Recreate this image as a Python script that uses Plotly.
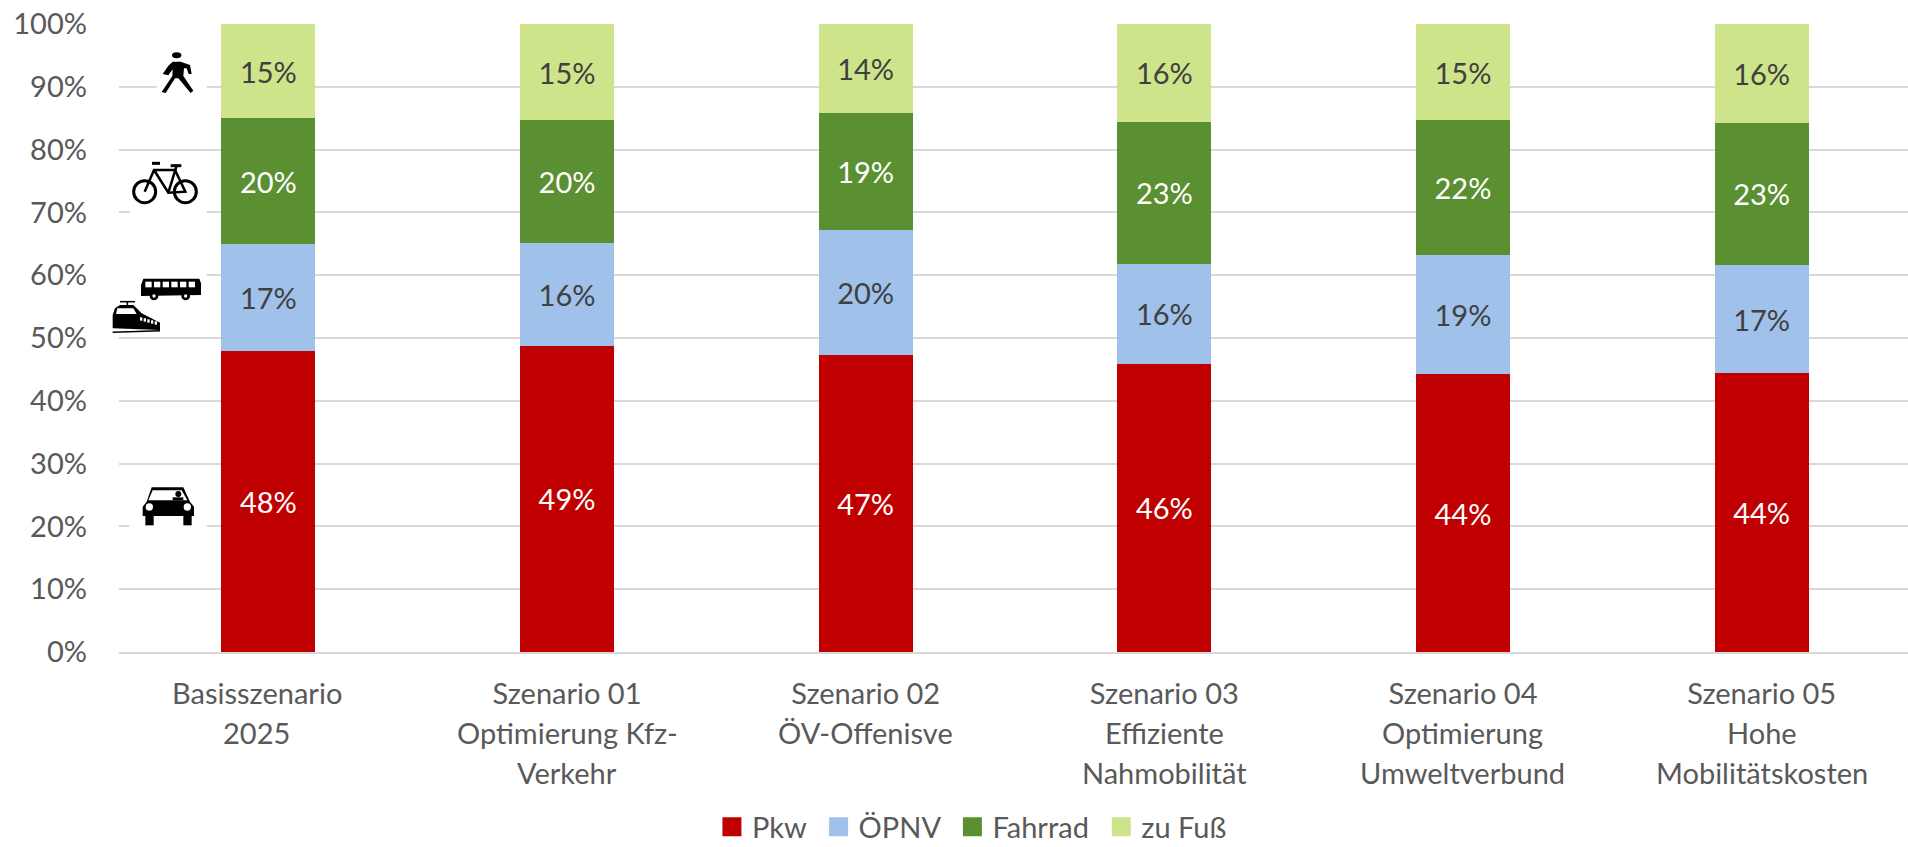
import plotly.graph_objects as go

# ---- data ----
first_lines = ["Basisszenario", "Szenario 01", "Szenario 02", "Szenario 03", "Szenario 04", "Szenario 05"]
more_lines = [["2025"], ["Optimierung Kfz-", "Verkehr"], ["ÖV-Offenisve"], ["Effiziente", "Nahmobilität"],
              ["Optimierung", "Umweltverbund"], ["Hohe", "Mobilitätskosten"]]
pkw = [48.0, 48.8, 47.3, 45.9, 44.2, 44.4]
oepnv = [16.9, 16.3, 19.9, 15.9, 19.0, 17.2]
fahrrad = [20.1, 19.6, 18.7, 22.6, 21.5, 22.7]
zufuss = [15.0, 15.3, 14.1, 15.6, 15.3, 15.7]
series = [("Pkw", pkw, "#C00000", "#FFFFFF"), ("ÖPNV", oepnv, "#9FC1EA", "#404040"),
          ("Fahrrad", fahrrad, "#5B9032", "#FFFFFF"), ("zu Fuß", zufuss, "#CDE48B", "#404040")]
FONT = "Lato"
FS = 29
W, H = 1908, 847
L, T, R, B = 119, 24, 0, 195
NB = "\u00a0"

fig = go.Figure()
for name, vals, col, tc in series:
    fig.add_bar(x=first_lines, y=vals, name=name, marker=dict(color=col, line_width=0), showlegend=False,
                text=[f"{v:.0f}%" for v in vals], textposition="inside", insidetextanchor="middle",
                textangle=0, constraintext="none", textfont=dict(family=FONT, size=FS, color=tc),
                cliponaxis=False)
for name, vals, col, tc in series:
    label = name if name == "zu Fuß" else name + NB
    fig.add_scatter(x=[first_lines[0]], y=[None], name=label, mode="markers",
                    marker=dict(symbol="square", size=16, color=col, line=dict(color=col, width=3)))

annotations = []
for j, (cat, lines) in enumerate(zip(first_lines, more_lines)):
    for i, line in enumerate(lines):
        annotations.append(dict(x=cat, xref="x", yref="paper", y=1 - (692 + 40 * (i + 1) - T) / (H - T - B),
                                yanchor="middle", showarrow=False, text=line, xshift=-12 if j == 0 else 0,
                                font=dict(family=FONT, size=FS, color="#595959")))

# ---- pictograms (zoom-crop coordinates, 3x) ----
def px(x, y):
    return (x / 3 - L) / (W - L - R), 1 - (y / 3 - T) / (H - T - B)

def poly(pts, close=True):
    s = ""
    for i, (x, y) in enumerate(pts):
        a, b = px(x, y)
        s += ("M" if i == 0 else "L") + f"{a:.5f},{b:.5f} "
    return s + ("Z" if close else "")

shapes = []
def fill(pts, col="black"):
    shapes.append(dict(type="path", xref="paper", yref="paper", path=poly(pts), fillcolor=col, line_width=0))
def rect(x0, y0, x1, y1, col="black"):
    fill([(x0, y0), (x1, y0), (x1, y1), (x0, y1)], col)
def circ(cx, cy, rx, ry=None, col="black", line=0):
    ry = ry or rx
    a0, b0 = px(cx - rx, cy - ry)
    a1, b1 = px(cx + rx, cy + ry)
    shapes.append(dict(type="circle", xref="paper", yref="paper", x0=a0, x1=a1, y0=b0, y1=b1,
                       fillcolor="rgba(0,0,0,0)" if line else col, line=dict(color="black", width=line)))
def stroke(pts, w=2):
    shapes.append(dict(type="path", xref="paper", yref="paper", path=poly(pts, False), line=dict(color="black", width=w)))

# white masks interrupting gridlines
rect(470, 252, 620, 270, "white")
rect(390, 628, 620, 645, "white")
rect(355, 817, 620, 833, "white")
rect(387, 1570, 620, 1586, "white")

# walker
circ(530, 166, 14, 9)
fill([(518, 185), (542, 185), (570, 195), (575, 222), (566, 222), (560, 205), (552, 205), (550, 228), (580, 272),
      (572, 279), (535, 235), (525, 235), (497, 279), (485, 276), (517, 228), (518, 208), (505, 226), (488, 222), (505, 197)])
# bicycle
circ(434, 575, 33, line=3)
circ(556, 575, 33, line=3)
stroke([(434, 575), (462, 510), (525, 510), (556, 575), (505, 578), (462, 510)], 2.5)
stroke([(505, 578), (530, 497)], 2.5)
stroke([(456, 490), (480, 490)], 3)
stroke([(512, 497), (544, 497)], 3)
# bus
fill([(430, 836), (598, 836), (603, 850), (603, 885), (423, 888), (423, 855)])
for k in range(6):
    rect(436 + k * 26, 845, 455 + k * 26, 862, "white")
for cx in (462, 557):
    circ(cx, 888, 13)
    circ(cx, 888, 5, col="white")
# train
fill([(345, 925), (360, 915), (400, 915), (425, 940), (480, 968), (480, 990), (338, 985), (338, 945)])
fill([(352, 925), (400, 925), (410, 942), (348, 942)], "white")
for k in range(5):
    rect(420 + k * 11, 952 + k * 3, 427 + k * 11, 962 + k * 3, "white")
stroke([(338, 997), (480, 992)], 1.5)
stroke([(360, 905), (405, 905)], 1.5)
stroke([(382, 905), (382, 916)], 1.5)
# car
D = 840
fill([(455, 622 + D), (550, 622 + D), (570, 665 + D), (582, 680 + D), (582, 708 + D), (428, 708 + D), (428, 680 + D), (440, 665 + D)])
fill([(458, 631 + D), (545, 631 + D), (562, 661 + D), (445, 661 + D)], "white")
circ(535, 642 + D, 9)
rect(518, 652 + D, 550, 661 + D)
rect(436, 705 + D, 461, 736 + D)
rect(550, 705 + D, 575, 736 + D)
circ(448, 681 + D, 11, col="white")
circ(562, 681 + D, 11, col="white")

ticks = [first_lines[0] + NB * 3] + first_lines[1:]
fig.update_layout(
    barmode="stack", bargap=0.685, width=W, height=H, paper_bgcolor="white", plot_bgcolor="white",
    margin=dict(l=L, r=R, t=T, b=B, autoexpand=False), annotations=annotations, shapes=shapes,
    font=dict(family=FONT, color="#595959"),
    legend=dict(orientation="h", x=0.5094, xanchor="center", xref="container",
                y=1 - (827 - T) / (H - T - B), yref="paper", yanchor="middle",
                font=dict(family=FONT, size=29, color="#595959"), itemwidth=30, traceorder="normal"),
    xaxis=dict(type="category", range=[-0.5, 5.49], tickmode="array", tickvals=first_lines, ticktext=ticks,
               tickfont=dict(family=FONT, size=FS, color="#595959"), showgrid=False,
               showline=True, linecolor="#D9D9D9", linewidth=2, ticks="", ticklabelstandoff=15),
    yaxis=dict(range=[0, 100], tickvals=list(range(0, 101, 10)), ticktext=[f"{v}%" for v in range(0, 101, 10)],
               tickfont=dict(family=FONT, size=FS, color="#595959"), gridcolor="#D9D9D9", gridwidth=1.5,
               zeroline=False, ticks="", ticklabelstandoff=31),
)
fig.write_html("out.html", config=dict(displayModeBar=False),
               post_script="document.body.style.margin='0';document.body.style.overflow='hidden';")
